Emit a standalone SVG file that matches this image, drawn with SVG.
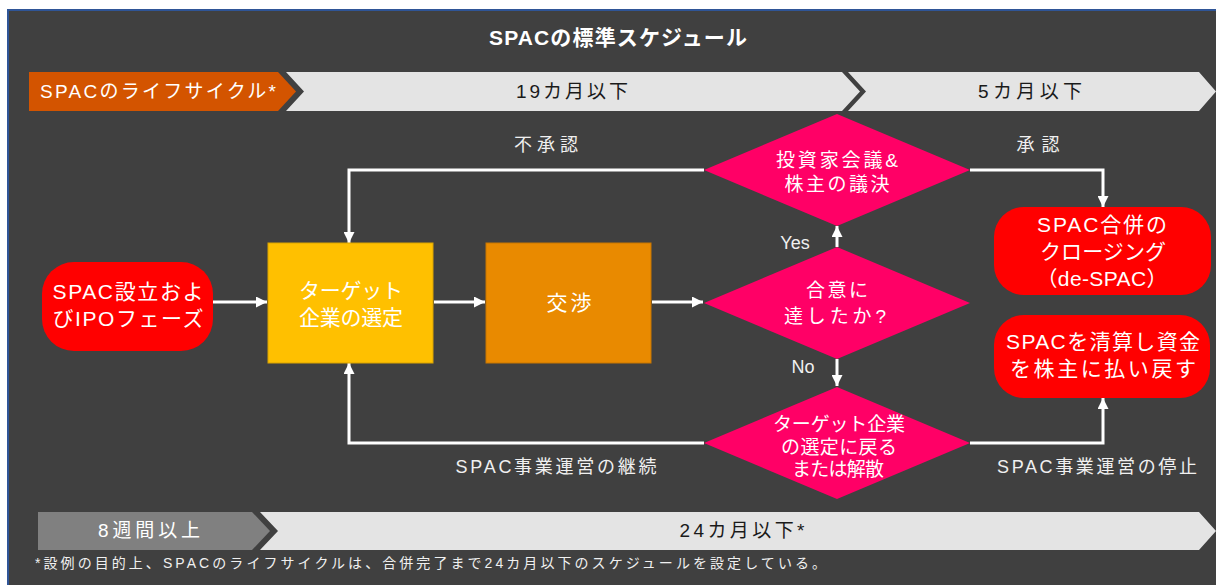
<svg xmlns="http://www.w3.org/2000/svg" width="1216" height="585" viewBox="0 0 1216 585">
<style>
text{font-family:"Liberation Sans","Noto Sans CJK JP",sans-serif;}
.nt{fill:#ffffff;font-size:21px;text-anchor:middle;}
.dt{fill:#ffffff;font-size:19px;text-anchor:middle;}
.lb{fill:#f0f0f0;font-size:18px;text-anchor:middle;}
.bt{fill:#1a1a1a;font-size:19px;text-anchor:middle;}
.conn{fill:none;stroke:#ffffff;stroke-width:3;}
.dia{fill:#ff0066;}
.red{fill:#ff0000;}
</style>
<defs>
<marker id="ah" viewBox="0 0 10 10" refX="10" refY="5" markerWidth="11" markerHeight="11" markerUnits="userSpaceOnUse" orient="auto">
<path d="M0,0 L10,5 L0,10 z" fill="#ffffff"/>
</marker>
</defs>
<rect x="0" y="0" width="1216" height="585" fill="#ffffff"/>
<rect x="7" y="9" width="1209" height="576" fill="#2f5597"/>
<rect x="9" y="11" width="1207" height="574" fill="#404040"/>
<g id="title">
<text x="618" y="45" font-size="21" font-weight="bold" fill="#ffffff" text-anchor="middle" textLength="258" lengthAdjust="spacing">SPACの標準スケジュール</text>
</g>
<g id="top-bar">
<polygon points="29,72 278,72 296,91.5 278,111 29,111" fill="#d35400"/>
<text x="40" y="98" font-size="19" fill="#ffffff" textLength="236" lengthAdjust="spacing">SPACのライフサイクル*</text>
<polygon points="286,72 842,72 860,91.5 842,111 286,111 304,91.5" fill="#e4e4e4"/>
<text class="bt" x="572" y="98" textLength="112" lengthAdjust="spacing">19カ月以下</text>
<polygon points="848,72 1199,72 1216,91.5 1199,111 848,111 866,91.5" fill="#e4e4e4"/>
<text class="bt" x="1030" y="98" textLength="104" lengthAdjust="spacing">5カ月以下</text>
</g>
<g id="connectors">
<path class="conn" d="M213,302 H267" marker-end="url(#ah)"/>
<path class="conn" d="M434,302 H485" marker-end="url(#ah)"/>
<path class="conn" d="M652,302 H703" marker-end="url(#ah)"/>
<path class="conn" d="M704,170 H349 V243" marker-end="url(#ah)"/>
<path class="conn" d="M970,170 H1103 V207" marker-end="url(#ah)"/>
<path class="conn" d="M704,443 H349 V363" marker-end="url(#ah)"/>
<path class="conn" d="M970,443 H1103 V398" marker-end="url(#ah)"/>
<path class="conn" d="M837,247 V226" marker-end="url(#ah)"/>
<path class="conn" d="M837,359 V386" marker-end="url(#ah)"/>
<text class="lb" x="546" y="151" textLength="64" lengthAdjust="spacing">不承認</text>
<text class="lb" x="1038" y="151" textLength="43" lengthAdjust="spacing">承認</text>
<text class="lb" x="795" y="249" font-size="20">Yes</text>
<text class="lb" x="803" y="373" font-size="20">No</text>
<text class="lb" x="556" y="473" textLength="201" lengthAdjust="spacing">SPAC事業運営の継続</text>
<text class="lb" x="1097" y="473" textLength="200" lengthAdjust="spacing">SPAC事業運営の停止</text>
</g>
<g id="node-ipo">
<rect class="red" x="42" y="262" width="171" height="89" rx="32"/>
<text class="nt" x="128" y="299" textLength="151" lengthAdjust="spacing">SPAC設立およ</text>
<text class="nt" x="128" y="326" textLength="151" lengthAdjust="spacing">びIPOフェーズ</text>
</g>
<g id="node-target">
<rect x="268" y="243" width="165" height="120" fill="#ffc000" stroke="#d9a300" stroke-width="1"/>
<text class="nt" x="351" y="298" textLength="104" lengthAdjust="spacing">ターゲット</text>
<text class="nt" x="351" y="325" textLength="104" lengthAdjust="spacing">企業の選定</text>
</g>
<g id="node-negotiation">
<rect x="486" y="243" width="165" height="120" fill="#e98a00" stroke="#c87600" stroke-width="1"/>
<text class="nt" x="569" y="310" textLength="45" lengthAdjust="spacing">交渉</text>
</g>
<g id="node-vote">
<polygon class="dia" points="704,170 837,114 970,170 837,226"/>
<text class="dt" x="837" y="167" textLength="122" lengthAdjust="spacing">投資家会議&amp;</text>
<text class="dt" x="837" y="191" textLength="105" lengthAdjust="spacing">株主の議決</text>
</g>
<g id="node-agree">
<polygon class="dia" points="704,303 837,247 970,303 837,359"/>
<text class="dt" x="837" y="297" textLength="62" lengthAdjust="spacing">合意に</text>
<text class="dt" x="835" y="323" textLength="102" lengthAdjust="spacing">達したか?</text>
</g>
<g id="node-return">
<polygon class="dia" points="704,443 837,387 970,443 837,499"/>
<text class="dt" x="839" y="431" textLength="132" lengthAdjust="spacing">ターゲット企業</text>
<text class="dt" x="839" y="454" textLength="116" lengthAdjust="spacing">の選定に戻る</text>
<text class="dt" x="838" y="476" textLength="92" lengthAdjust="spacing">または解散</text>
</g>
<g id="node-closing">
<rect class="red" x="994" y="207" width="217" height="88" rx="30"/>
<text class="nt" x="1102" y="232" textLength="130" lengthAdjust="spacing">SPAC合併の</text>
<text class="nt" x="1103" y="259" textLength="126" lengthAdjust="spacing">クロージング</text>
<text class="nt" x="1102" y="286" textLength="131" lengthAdjust="spacing">（de-SPAC）</text>
</g>
<g id="node-liquidate">
<rect class="red" x="994" y="315" width="216" height="83" rx="30"/>
<text class="nt" x="1103" y="349" textLength="194" lengthAdjust="spacing">SPACを清算し資金</text>
<text class="nt" x="1103" y="376" textLength="186" lengthAdjust="spacing">を株主に払い戻す</text>
</g>
<g id="bottom-bar">
<polygon points="38,512 252,512 270,531 252,550 38,550" fill="#808080"/>
<text x="149" y="537" font-size="19" fill="#ffffff" text-anchor="middle" textLength="102" lengthAdjust="spacing">8週間以上</text>
<polygon points="260,512 1199,512 1216,531 1199,550 260,550 278,531" fill="#e4e4e4"/>
<text class="bt" x="742" y="537" textLength="125" lengthAdjust="spacing">24カ月以下*</text>
</g>
<g id="footnote">
<text x="35" y="568" font-size="14" fill="#f0f0f0" textLength="791" lengthAdjust="spacing">*設例の目的上、SPACのライフサイクルは、合併完了まで24カ月以下のスケジュールを設定している。</text>
</g>
</svg>
